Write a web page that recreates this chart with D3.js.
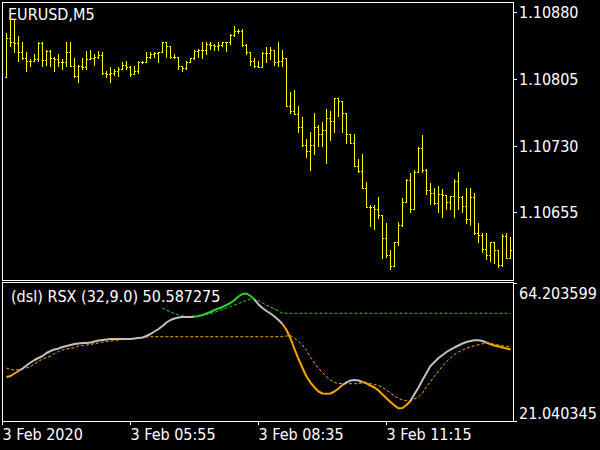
<!DOCTYPE html>
<html><head><meta charset="utf-8">
<script src="https://cdn.jsdelivr.net/npm/d3@7"></script>
<style>
html,body{margin:0;padding:0;background:#000;}
svg{display:block;}
text{font-family:"DejaVu Sans Condensed","DejaVu Sans",sans-serif;font-stretch:condensed;fill:#fff;}
</style>
</head><body>
<svg id="c" width="600" height="450"></svg>
<script>
const symbolLabel = "EURUSD,M5";
const indicatorLabel = "(dsl) RSX (32,9.0) 50.587275";

const openP = [1.10807,1.10851,1.10847,1.10845,1.10835,1.10829,1.10825,1.10825,1.10827,1.10845,
1.10826,1.10836,1.10829,1.10827,1.10824,1.10824,1.10835,1.10820,1.10808,1.10820,
1.10818,1.10827,1.10828,1.10830,1.10832,1.10812,1.10811,1.10812,1.10814,1.10816,
1.10821,1.10818,1.10810,1.10814,1.10824,1.10824,1.10830,1.10833,1.10834,1.10835,
1.10846,1.10842,1.10830,1.10830,1.10819,1.10817,1.10824,1.10828,1.10836,1.10837,
1.10838,1.10844,1.10843,1.10842,1.10843,1.10846,1.10846,1.10854,1.10859,1.10859,
1.10843,1.10835,1.10825,1.10819,1.10818,1.10834,1.10834,1.10838,1.10824,1.10825,
1.10829,1.10775,1.10769,1.10766,1.10751,1.10731,1.10724,1.10731,1.10751,1.10743,
1.10748,1.10761,1.10758,1.10783,1.10780,1.10767,1.10743,1.10733,1.10707,1.10701,
1.10682,1.10661,1.10661,1.10659,1.10652,1.10626,1.10607,1.10594,1.10621,1.10641,
1.10666,1.10691,1.10659,1.10700,1.10727,1.10702,1.10680,1.10677,1.10665,1.10676,
1.10674,1.10666,1.10673,1.10690,1.10672,1.10662,1.10647,1.10672,1.10632,1.10629,
1.10614,1.10607,1.10621,1.10613,1.10596,1.10628,1.10604];

const highP = [1.10857,1.10878,1.10872,1.10853,1.10847,1.10835,1.10827,1.10833,1.10846,1.10846,
1.10838,1.10838,1.10830,1.10833,1.10827,1.10847,1.10847,1.10829,1.10821,1.10829,
1.10836,1.10838,1.10833,1.10836,1.10835,1.10814,1.10818,1.10816,1.10818,1.10824,
1.10825,1.10819,1.10819,1.10825,1.10825,1.10835,1.10835,1.10835,1.10835,1.10847,
1.10847,1.10842,1.10833,1.10830,1.10820,1.10825,1.10829,1.10838,1.10839,1.10846,
1.10846,1.10846,1.10844,1.10847,1.10847,1.10847,1.10855,1.10864,1.10861,1.10861,
1.10844,1.10835,1.10829,1.10825,1.10835,1.10841,1.10841,1.10838,1.10847,1.10838,
1.10829,1.10790,1.10793,1.10774,1.10762,1.10737,1.10745,1.10767,1.10753,1.10756,
1.10771,1.10769,1.10783,1.10784,1.10780,1.10767,1.10743,1.10743,1.10715,1.10721,
1.10689,1.10663,1.10663,1.10672,1.10652,1.10643,1.10612,1.10622,1.10644,1.10671,
1.10692,1.10699,1.10702,1.10728,1.10742,1.10704,1.10688,1.10682,1.10684,1.10681,
1.10674,1.10673,1.10692,1.10700,1.10673,1.10682,1.10682,1.10677,1.10643,1.10632,
1.10632,1.10622,1.10621,1.10613,1.10630,1.10632,1.10627];

const lowP = [1.10807,1.10842,1.10835,1.10825,1.10827,1.10814,1.10819,1.10825,1.10825,1.10819,
1.10821,1.10819,1.10814,1.10820,1.10816,1.10819,1.10819,1.10807,1.10802,1.10816,
1.10816,1.10827,1.10821,1.10829,1.10811,1.10807,1.10802,1.10809,1.10808,1.10816,
1.10816,1.10808,1.10810,1.10812,1.10823,1.10824,1.10829,1.10830,1.10824,1.10835,
1.10830,1.10829,1.10829,1.10816,1.10814,1.10816,1.10824,1.10827,1.10830,1.10829,
1.10833,1.10839,1.10838,1.10838,1.10842,1.10836,1.10844,1.10853,1.10857,1.10842,
1.10833,1.10821,1.10818,1.10818,1.10818,1.10824,1.10827,1.10821,1.10819,1.10819,
1.10774,1.10767,1.10765,1.10745,1.10729,1.10717,1.10702,1.10720,1.10730,1.10730,
1.10710,1.10736,1.10745,1.10763,1.10745,1.10733,1.10733,1.10707,1.10700,1.10682,
1.10661,1.10640,1.10636,1.10649,1.10603,1.10605,1.10591,1.10594,1.10618,1.10639,
1.10666,1.10655,1.10659,1.10700,1.10700,1.10675,1.10664,1.10664,1.10655,1.10650,
1.10659,1.10659,1.10650,1.10659,1.10655,1.10643,1.10641,1.10631,1.10621,1.10610,
1.10602,1.10600,1.10598,1.10593,1.10594,1.10603,1.10603];

const closeP = [1.10851,1.10847,1.10845,1.10835,1.10829,1.10825,1.10825,1.10827,1.10845,1.10826,
1.10836,1.10829,1.10827,1.10824,1.10824,1.10835,1.10820,1.10808,1.10820,1.10818,
1.10827,1.10828,1.10830,1.10832,1.10812,1.10811,1.10812,1.10814,1.10816,1.10821,
1.10818,1.10810,1.10814,1.10824,1.10824,1.10830,1.10833,1.10834,1.10835,1.10846,
1.10842,1.10830,1.10830,1.10819,1.10817,1.10824,1.10828,1.10836,1.10837,1.10838,
1.10844,1.10843,1.10842,1.10843,1.10846,1.10846,1.10854,1.10859,1.10859,1.10843,
1.10835,1.10825,1.10819,1.10818,1.10834,1.10834,1.10838,1.10824,1.10825,1.10829,
1.10775,1.10769,1.10766,1.10751,1.10731,1.10724,1.10731,1.10751,1.10743,1.10748,
1.10761,1.10758,1.10783,1.10780,1.10767,1.10743,1.10733,1.10707,1.10701,1.10682,
1.10661,1.10661,1.10659,1.10652,1.10626,1.10607,1.10594,1.10621,1.10641,1.10666,
1.10691,1.10659,1.10700,1.10727,1.10702,1.10680,1.10677,1.10665,1.10676,1.10674,
1.10666,1.10673,1.10690,1.10672,1.10662,1.10647,1.10672,1.10632,1.10629,1.10614,
1.10607,1.10621,1.10613,1.10596,1.10628,1.10604,1.10612];

const rsx = [34.80,35.11,35.90,36.68,37.46,38.40,39.34,40.12,40.74,41.37,
42.31,42.93,43.40,43.72,44.19,44.50,44.81,45.12,45.28,45.44,
45.44,45.59,45.91,46.22,46.38,46.53,46.69,46.69,46.69,46.69,
46.69,46.69,46.84,47.00,47.16,47.63,48.25,49.03,49.82,50.75,
51.85,52.63,53.10,53.41,53.57,53.57,53.57,53.73,53.88,54.19,
54.66,55.13,55.76,56.23,56.70,57.32,57.95,58.89,59.98,60.76,
60.92,60.14,59.04,57.48,56.38,55.45,54.66,53.73,52.63,51.38,
49.50,46.84,43.56,40.43,37.62,34.96,33.08,31.52,30.27,29.64,
29.58,29.64,30.27,31.21,32.30,33.14,33.71,33.86,33.71,33.24,
32.83,32.14,31.52,30.58,29.33,28.14,26.98,25.89,25.01,25.11,
26.04,27.30,29.48,31.52,33.86,36.05,38.24,39.49,40.74,41.68,
42.62,43.34,44.03,44.65,45.28,45.75,46.06,46.31,46.31,46.06,
45.59,45.06,44.65,44.34,44.03,43.72,43.40];

// -1 = below lower level (orange), 0 = neutral (silver), 1 = above upper level (green)
const rsxTrend = [-1,-1,-1,-1,0,0,0,0,0,0,
0,0,0,0,0,0,0,0,0,0,
0,0,0,0,0,0,0,0,0,0,
0,0,0,0,0,0,0,0,0,0,
0,0,0,0,0,0,0,0,1,1,
1,1,1,1,1,1,1,1,1,1,
1,1,1,0,0,0,0,0,0,0,
-1,-1,-1,-1,-1,-1,-1,-1,-1,-1,
-1,-1,-1,-1,-1,0,0,0,0,0,
-1,-1,-1,-1,-1,-1,-1,-1,-1,-1,
-1,-1,0,0,0,0,0,0,0,0,
0,0,0,0,0,0,0,0,0,0,
0,-1,-1,-1,-1,-1,-1];

const dslUp = [null,null,null,null,null,null,null,null,null,null,
null,null,null,null,null,null,null,null,null,null,
null,null,null,null,null,null,null,null,null,null,
null,null,null,null,null,null,null,null,null,56.38,
55.76,55.13,54.66,54.19,53.88,53.66,53.57,53.57,53.73,54.04,
54.35,54.66,54.98,55.45,55.91,56.38,56.85,57.32,57.79,58.26,
58.73,59.20,59.04,58.73,57.95,57.32,56.70,56.07,55.45,54.73,
54.73,54.73,54.73,54.73,54.73,54.73,54.73,54.73,54.73,54.73,
54.73,54.73,54.73,54.73,54.73,54.73,54.73,54.73,54.73,54.73,
54.73,54.73,54.73,54.73,54.73,54.73,54.73,54.73,54.73,54.73,
54.73,54.73,54.73,54.73,54.73,54.73,54.73,54.73,54.73,54.73,
54.73,54.73,54.73,54.73,54.73,54.73,54.73,54.73,54.73,54.73,
54.73,54.73,54.73,54.73,54.73,54.73,54.73];

const dslDn = [37.62,37.15,36.99,37.15,37.30,37.62,38.09,38.87,39.65,40.43,
40.90,41.37,42.15,42.78,43.25,43.56,43.72,44.03,44.50,44.65,
44.81,44.97,45.28,45.44,45.75,45.91,46.06,46.22,46.38,46.53,
46.69,46.69,46.84,47.00,47.16,47.31,47.41,47.41,47.41,47.41,
47.41,47.41,47.41,47.41,47.41,47.41,47.41,47.41,47.41,47.41,
47.41,47.41,47.41,47.41,47.41,47.41,47.41,47.41,47.41,47.41,
47.41,47.41,47.41,47.41,47.41,47.41,47.41,47.41,47.41,47.41,
47.63,47.78,47.00,45.91,44.81,43.09,40.90,39.18,37.46,36.21,
34.96,33.86,33.08,32.77,32.71,32.71,32.71,32.71,32.71,33.02,
33.02,32.77,32.46,32.14,31.52,30.74,29.80,28.86,28.08,27.61,
27.39,27.45,27.92,28.55,29.80,31.77,33.39,35.11,36.68,38.24,
39.59,40.74,41.84,42.62,43.25,43.78,44.19,44.59,44.90,45.19,
45.34,45.28,44.97,44.81,44.59,44.44,44.28];

const priceTicks = [1.10880, 1.10805, 1.10730, 1.10655];
const rsxTicks = [64.203599, 21.040345];
const timeTickBars = [-1, 31, 63, 95];
const timeTickLabels = ["3 Feb 2020", "3 Feb 05:55", "3 Feb 08:35", "3 Feb 11:15"];

const svg = d3.select("#c");
svg.append("rect").attr("width", 600).attr("height", 450).attr("fill", "#000");
const defs = svg.append("defs");
defs.append("clipPath").attr("id", "clipMain").append("rect")
  .attr("x", 3).attr("y", 3).attr("width", 510).attr("height", 277);
defs.append("clipPath").attr("id", "clipInd").append("rect")
  .attr("x", 3).attr("y", 283).attr("width", 510).attr("height", 138);

const n = openP.length;
const x = d3.scaleLinear().domain([0, n - 1]).range([6, 6 + 4 * (n - 1)]);
const yP = d3.scaleLinear().domain([1.10655, 1.10880]).range([212.67, 12.67]);
const yR = d3.scaleLinear().domain([21.040345, 64.203599]).range([421, 283]);

// panel frames
svg.append("rect").attr("x", 2.5).attr("y", 2.5).attr("width", 511).attr("height", 278)
  .attr("fill", "none").attr("stroke", "#fff").attr("stroke-width", 1);
svg.append("rect").attr("x", 2.5).attr("y", 282.5).attr("width", 511).attr("height", 139)
  .attr("fill", "none").attr("stroke", "#fff").attr("stroke-width", 1);

// OHLC bars
const bars = d3.range(n).map(i => ({ i, o: openP[i], h: highP[i], l: lowP[i], c: closeP[i] }));
const gBars = svg.append("g").attr("clip-path", "url(#clipMain)").attr("fill", "#ffff00")
  .attr("shape-rendering", "crispEdges");
const fy = v => Math.floor(yP(v));
gBars.append("g").selectAll("rect").data(bars).join("rect")
  .attr("x", d => x(d.i)).attr("y", d => fy(d.h)).attr("width", 1)
  .attr("height", d => fy(d.l) - fy(d.h) + 1);
gBars.append("g").selectAll("rect").data(bars).join("rect")
  .attr("x", d => x(d.i) - 1).attr("y", d => fy(d.o)).attr("width", 1).attr("height", 1);
gBars.append("g").selectAll("rect").data(bars).join("rect")
  .attr("x", d => x(d.i) + 1).attr("y", d => fy(d.c)).attr("width", 1).attr("height", 1);

// Price axis
const gPA = svg.append("g").attr("transform", "translate(513,0)")
  .call(d3.axisRight(yP).tickValues(priceTicks).tickFormat(d3.format(".5f")).tickSize(4).tickPadding(2));
gPA.select(".domain").remove();
gPA.selectAll(".tick").attr("transform", d => `translate(0,${fy(d) + 0.5})`);
gPA.selectAll(".tick line").attr("stroke", "#fff").attr("shape-rendering", "crispEdges");
gPA.selectAll(".tick text").attr("fill", "#fff").attr("font-size", 16).attr("font-family", null)
  .attr("dy", "0.36em");

// Indicator axis
const gRA = svg.append("g").attr("transform", "translate(513,0)")
  .call(d3.axisRight(yR).tickValues(rsxTicks).tickFormat(d3.format(".6f")).tickSize(4).tickPadding(2));
gRA.select(".domain").remove();
gRA.selectAll(".tick").attr("transform", d => `translate(0,${Math.round(yR(d)) + 0.5})`);
gRA.selectAll(".tick line").attr("stroke", "#fff").attr("shape-rendering", "crispEdges");
gRA.selectAll(".tick text").attr("fill", "#fff").attr("font-size", 16).attr("font-family", null)
  .attr("dy", (d, i) => i === 0 ? "15" : "-3");

// Time axis
const gTA = svg.append("g").attr("transform", "translate(0,421)")
  .call(d3.axisBottom(x).tickValues(timeTickBars).tickFormat((d, i) => timeTickLabels[i]).tickSize(4));
gTA.select(".domain").remove();
gTA.selectAll(".tick line").attr("stroke", "#fff").attr("shape-rendering", "crispEdges");
gTA.selectAll(".tick text").attr("fill", "#fff").attr("font-size", 16).attr("font-family", null)
  .attr("text-anchor", "start").attr("x", 0).attr("y", 19).attr("dy", null);

// Indicator lines
const gInd = svg.append("g").attr("clip-path", "url(#clipInd)");
const dslLine = d3.line().defined(d => d != null).x((d, i) => x(i) + 0.5).y(d => yR(d));
gInd.append("path").attr("d", dslLine(dslUp)).attr("fill", "none")
  .attr("stroke", "#32cd32").attr("stroke-width", 1).attr("stroke-dasharray", "3,2");
gInd.append("path").attr("d", dslLine(dslDn)).attr("fill", "none")
  .attr("stroke", "#ffa500").attr("stroke-width", 1).attr("stroke-dasharray", "3,2");

const trendColor = { "-1": "#ffa500", "0": "#c0c0c0", "1": "#32cd32" };
const pts = rsx.map((v, i) => [x(i) + 0.5, yR(v)]);
const runs = [];
let cur = null;
for (let i = 1; i < n; i++) {
  const s = rsxTrend[i];
  if (!cur || cur.s !== s) { cur = { s, pts: [pts[i - 1]] }; runs.push(cur); }
  cur.pts.push(pts[i]);
}
const rsxLine = d3.line();
gInd.selectAll("path.rsx").data(runs).join("path").attr("class", "rsx")
  .attr("d", d => rsxLine(d.pts)).attr("fill", "none")
  .attr("stroke", d => trendColor[d.s]).attr("stroke-width", 2)
  .attr("stroke-linejoin", "round").attr("stroke-linecap", "butt");

// Labels
svg.append("text").attr("x", 8).attr("y", 20).attr("font-size", 16).text(symbolLabel);
svg.append("text").attr("x", 11).attr("y", 302).attr("font-size", 16).text(indicatorLabel);
</script>
</body></html>
